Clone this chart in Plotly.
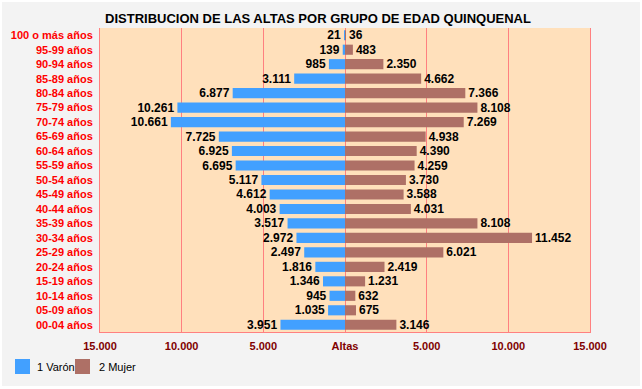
import plotly.graph_objects as go

categories = ["100 o más años", "95-99 años", "90-94 años", "85-89 años", "80-84 años",
              "75-79 años", "70-74 años", "65-69 años", "60-64 años", "55-59 años",
              "50-54 años", "45-49 años", "40-44 años", "35-39 años", "30-34 años",
              "25-29 años", "20-24 años", "15-19 años", "10-14 años", "05-09 años",
              "00-04 años"]
varon = [21, 139, 985, 3111, 6877, 10261, 10661, 7725, 6925, 6695,
         5117, 4612, 4003, 3517, 2972, 2497, 1816, 1346, 945, 1035, 3951]
mujer = [36, 483, 2350, 4662, 7366, 8108, 7269, 4938, 4390, 4259,
         3730, 3588, 4031, 8108, 11452, 6021, 2419, 1231, 632, 675, 3146]
series_names = ["1 Varón", "2 Mujer"]
series_colors = ["#42A0FF", "#AE7066"]
x_tickvals = [-15000, -10000, -5000, 0, 5000, 10000, 15000]
x_ticktext = ["15.000", "10.000", "5.000", "Altas", "5.000", "10.000", "15.000"]
title_text = "DISTRIBUCION DE LAS ALTAS POR GRUPO DE EDAD QUINQUENAL"


def fmt(v):
    return f"{v:,}".replace(",", ".")


FONT = "Liberation Sans, Arial, sans-serif"

fig = go.Figure()
for name, color, vals, sign in [(series_names[0], series_colors[0], varon, -1),
                                (series_names[1], series_colors[1], mujer, 1)]:
    fig.add_trace(go.Bar(
        y=categories, x=[sign * v for v in vals], orientation="h", name=name,
        marker=dict(color=color, line=dict(width=0)),
        text=[fmt(v) for v in vals], textposition="outside",
        constraintext="none",
        textfont=dict(family=FONT, size=12, color="black", weight="bold"),
        cliponaxis=False, showlegend=False,
    ))

L, R, T, B = 100, 52, 28, 57
W, H = 642, 389
pw, ph = W - L - R, H - T - B

def px_x(p):
    return (p - L) / pw

def px_y(p):
    return (H - B - p) / ph

shapes = [
    dict(type="rect", xref="paper", yref="paper", layer="below",
         x0=px_x(2), x1=px_x(640), y0=px_y(386), y1=px_y(2),
         fillcolor="#F3F3F3", line=dict(width=0)),
    dict(type="rect", xref="paper", yref="paper", layer="below",
         x0=0, x1=1, y0=0, y1=1,
         fillcolor="#FFE0BB", line=dict(width=0)),
]
annotations = []
# manual legend
leg_sq_x = [15, 75]
leg_txt_x = [35, 97]
for i in range(2):
    shapes.append(dict(type="rect", xref="paper", yref="paper",
                       x0=px_x(leg_sq_x[i]), x1=px_x(leg_sq_x[i] + 15),
                       y0=px_y(374), y1=px_y(359),
                       fillcolor=series_colors[i], line=dict(width=0)))
    annotations.append(dict(text=series_names[i], xref="paper", yref="paper",
                            x=px_x(leg_txt_x[i]), y=px_y(367), xanchor="left",
                            yanchor="middle", showarrow=False,
                            font=dict(family=FONT, size=11, color="black")))

fig.update_layout(
    width=W, height=H,
    margin=dict(l=L, r=R, t=T, b=B, pad=0, autoexpand=False),
    paper_bgcolor="white",
    plot_bgcolor="rgba(0,0,0,0)",
    barmode="relative",
    bargap=0.3,
    font=dict(family=FONT, size=11, color="black"),
    title=dict(text=title_text, x=px_x(318), xref="paper", xanchor="center",
               y=1 - 18 / H, yanchor="middle",
               font=dict(family=FONT, size=13, color="black", weight="bold")),
    shapes=shapes,
    annotations=annotations,
    showlegend=False,
)
fig.update_xaxes(
    range=[-15000, 15000], tickvals=x_tickvals, ticktext=x_ticktext,
    showgrid=True, gridcolor="#FF8080", gridwidth=1,
    zeroline=True, zerolinecolor="#FF8080", zerolinewidth=1,
    showline=True, linecolor="#FF8080", linewidth=1, mirror=False,
    ticks="outside", ticklen=4, tickcolor="rgba(0,0,0,0)",
    tickfont=dict(family=FONT, size=11, color="#800000", weight="bold"),
    fixedrange=True, automargin=False,
)
fig.update_yaxes(
    autorange="reversed", showgrid=False,
    showline=True, linecolor="#FF8080", linewidth=1, mirror=True,
    ticks="outside", ticklen=4, tickcolor="rgba(0,0,0,0)",
    tickfont=dict(family=FONT, size=11, color="#FF0000", weight="bold"),
    fixedrange=True, automargin=False,
)

fig.write_html(
    "out.html",
    config={"displayModeBar": False},
    post_script="document.body.style.margin='0';document.body.style.overflow='hidden';",
)
